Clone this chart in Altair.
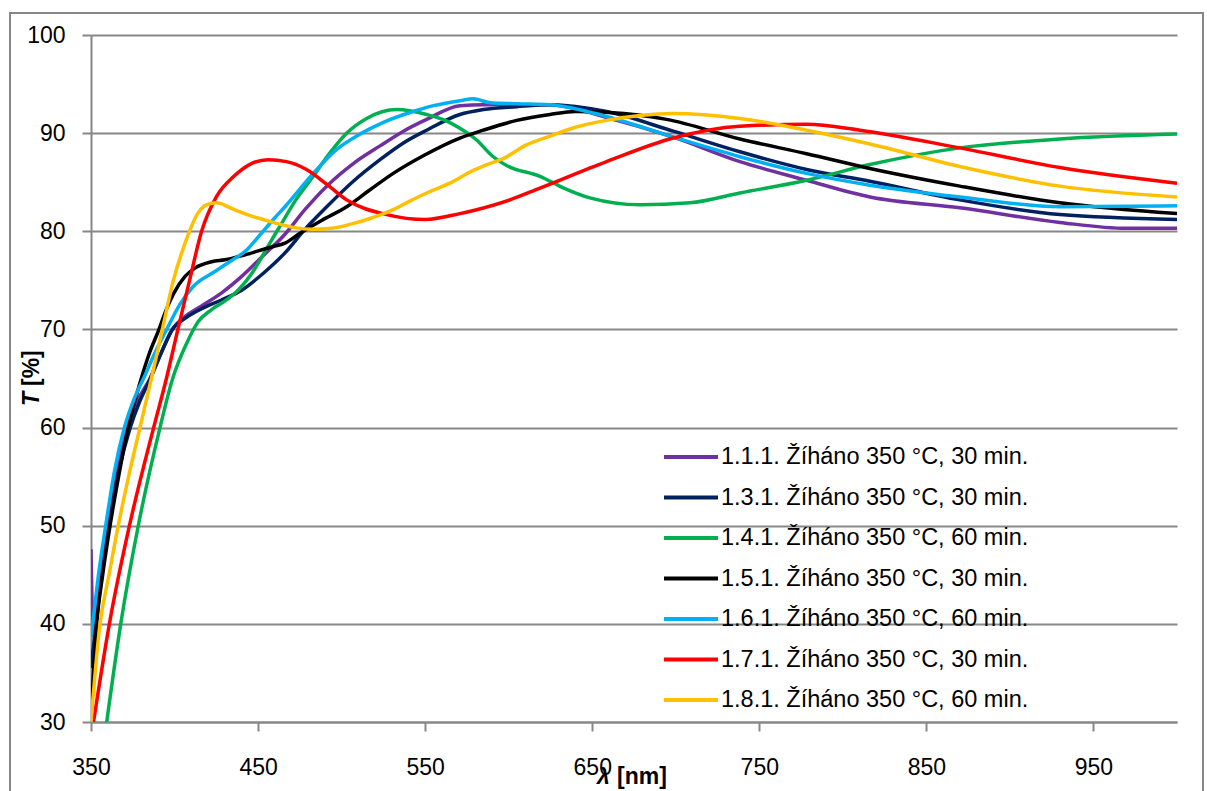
import altair as alt
import pandas as pd

series_names = [
    "1.1.1. Žíháno 350 °C, 30 min.",
    "1.3.1. Žíháno 350 °C, 30 min.",
    "1.4.1. Žíháno 350 °C, 60 min.",
    "1.5.1. Žíháno 350 °C, 30 min.",
    "1.6.1. Žíháno 350 °C, 60 min.",
    "1.7.1. Žíháno 350 °C, 30 min.",
    "1.8.1. Žíháno 350 °C, 60 min.",
]
colors = ["#7030A0", "#002060", "#00B050", "#000000", "#00B0F0", "#FF0000", "#FFC000"]

x_ticks = [350, 450, 550, 650, 750, 850, 950]
y_ticks = [30, 40, 50, 60, 70, 80, 90, 100]

# 1.1.1 (purple)
x_111 = [350, 351.4, 353, 356.5, 360.4, 365.5, 371.5, 378, 385.3, 392, 398.7, 407, 416.2, 428,
         440.2, 453, 466.1, 478, 491.1, 507, 523, 537, 550.9, 570.8, 584.8, 624.7, 658.6,
         698.5, 738.4, 778.3, 816.2, 870, 929.9, 969.8, 1000]
y_111 = [47.6, 38.8, 40.5, 45.5, 50, 55.5, 60, 62.8, 65.0, 67.6, 70, 71.4, 72.4, 73.7,
         75.4, 77.5, 79.7, 82.2, 84.6, 86.9, 88.7, 90.2, 91.4, 92.8, 92.9, 92.9, 91.6,
         89.6, 87.1, 85.2, 83.5, 82.4, 80.9, 80.3, 80.3]
# 1.3.1 (navy)
x_131 = [350, 353, 356.5, 360.5, 366.5, 373.5, 379, 385.3, 392, 398.7, 407, 416.2, 428, 440.2,
         453, 466.1, 478, 491.1, 507, 523, 537, 550.9, 570.8, 584.8, 604.8, 624.7, 658.6,
         698.5, 738.4, 778.3, 816.2, 870, 929.9, 1000]
y_131 = [35.5, 40, 45, 50, 55.5, 60, 62.6, 64.9, 67.6, 70, 71.2, 72.1, 73.0, 74.0,
         75.7, 77.8, 80.2, 82.5, 85.1, 87.3, 89.0, 90.3, 91.9, 92.4, 92.7, 92.9, 92.2,
         90.2, 88.1, 86.3, 85.1, 83.2, 81.7, 81.2]
# 1.4.1 (green)
x_141 = [359.4, 367.8, 378.3, 391.3, 398.7, 407.3, 414.2, 422, 430.2, 438, 446.2, 452, 458.1,
         464.1, 473, 483, 493, 503, 515, 532.9, 550.9, 562, 570.8, 580.8, 590, 598.8, 618.7,
         633, 648.6, 678.5, 708.5, 738.4, 778.3, 816.2, 870, 929.9, 1000]
y_141 = [30, 40, 50, 60, 64.9, 68.6, 70.8, 72.0, 72.9, 74.0, 75.7, 77.3, 79.1,
         80.8, 83.3, 85.6, 88.0, 90.0, 91.5, 92.4, 91.9, 91.3, 90.5, 89.3, 87.7, 86.7, 85.6,
         84.4, 83.4, 82.7, 82.9, 83.9, 85.2, 86.8, 88.5, 89.4, 89.9]
# 1.5.1 (black)
x_151 = [350, 351.5, 353.4, 357, 361.4, 366.5, 372.3, 379.9, 385, 390.7, 395, 399.6, 406.3,
         412.2, 422.2, 430.2, 440, 450.1, 458, 466.1, 475.1, 488, 503, 516, 530.9, 550, 570.8,
         584.8, 604.8, 624.7, 640, 660, 694.5, 738.4, 778.3, 816.2, 870, 929.9, 1000]
y_151 = [30.5, 35, 40, 45, 50, 55, 60, 64.9, 67.6, 70, 72.0, 73.7, 75.4,
         76.25, 76.9, 77.1, 77.5, 78.0, 78.4, 78.8, 79.8, 81.1, 82.5, 84.1, 85.9, 87.8, 89.5,
         90.3, 91.3, 91.9, 92.2, 92.1, 91.4, 89.4, 87.9, 86.4, 84.6, 82.9, 81.8]
# 1.6.1 (light blue)
x_161 = [350, 351, 354.5, 358.8, 364, 370, 376, 382, 388.5, 395.3, 403, 411.3, 424.2, 433,
         443.2, 451, 459.1, 466.1, 483, 496, 511, 525, 540.9, 555, 570.8, 578.8, 588.8, 605,
         624.7, 658.6, 698.5, 738.4, 778.3, 816.2, 870, 929.9, 1000]
y_161 = [38.7, 40, 45, 50, 55.5, 60, 63, 65.2, 67.7, 70, 72.5, 74.4, 75.9, 76.9,
         78.1, 79.6, 81.2, 82.5, 85.9, 88.2, 89.9, 91.1, 92.1, 92.8, 93.3, 93.5, 93.1, 93.0,
         92.9, 91.7, 89.6, 87.6, 85.9, 84.7, 83.5, 82.5, 82.6]
# 1.7.1 (red)
x_171 = [351.5, 361, 373, 387.5, 395, 402, 409, 416.2, 425, 435.5, 446, 456, 467, 479, 491,
         503, 527, 550, 570.8, 580.8, 600.7, 618.7, 658.6, 698.5, 738.4, 778.3, 810.2, 870,
         929.9, 1000]
y_171 = [30, 40, 50, 60, 64.9, 70, 75, 80, 83.5, 85.6, 86.9, 87.3, 87.1, 86.3, 84.8,
         83.2, 81.7, 81.2, 81.8, 82.2, 83.2, 84.4, 87.1, 89.5, 90.7, 90.9, 90.3, 88.5,
         86.5, 84.9]
# 1.8.1 (yellow)
x_181 = [350, 355.4, 360.8, 366.3, 372.5, 379.3, 386, 392.7, 399, 406.3, 414.2, 419, 425.2, 432,
         438, 445.2, 453, 461.1, 471, 483, 494, 505, 517, 530.9, 540, 550.9, 564.8, 578.8, 587,
         596.7, 610.7, 624.7, 640, 658.6, 698.5, 738.4, 778.3, 816.2, 870, 929.9, 1000]
y_181 = [30, 40, 45, 50, 55, 60, 64.9, 70, 74.8, 78.8, 81.9, 82.7, 82.9, 82.5,
         82.05, 81.6, 81.2, 80.8, 80.4, 80.2, 80.3, 80.7, 81.3, 82.2, 83.0, 83.9, 84.9, 86.2, 86.8,
         87.4, 88.8, 89.7, 90.6, 91.3, 92.0, 91.5, 90.3, 88.9, 86.6, 84.6, 83.5]

all_x = [x_111, x_131, x_141, x_151, x_161, x_171, x_181]
all_y = [y_111, y_131, y_141, y_151, y_161, y_171, y_181]

rows = []
for i, (name, xs, ys) in enumerate(zip(series_names, all_x, all_y)):
    for xv, yv in zip(xs, ys):
        rows.append({"series": name, "order": i, "wl": xv, "T": yv})
df = pd.DataFrame(rows)

FONT = "Liberation Sans"
GRAY = "#878787"
W, H = 1086, 687

lines = alt.Chart(df).mark_line(strokeWidth=3.5, interpolate="monotone", clip=True).encode(
    x=alt.X("wl:Q",
            scale=alt.Scale(domain=[350, 1000], nice=False, zero=False),
            axis=alt.Axis(values=x_ticks, title=None, grid=False, tickSize=9,
                          labelPadding=25, labelFlush=False)),
    y=alt.Y("T:Q",
            scale=alt.Scale(domain=[30, 100], nice=False, zero=False),
            axis=alt.Axis(values=y_ticks, title=None, grid=True, tickSize=9,
                          labelPadding=17)),
    color=alt.Color("series:N",
                    scale=alt.Scale(domain=series_names, range=colors),
                    legend=alt.Legend(title=None, orient="none", legendX=571, legendY=411,
                                      symbolType="stroke", symbolSize=2916,
                                      symbolStrokeWidth=4, clipHeight=22, rowPadding=16.5,
                                      labelOffset=1, labelFontSize=23.5, labelFont=FONT,
                                      labelColor="#000000", labelLimit=600, padding=0)),
    detail="series:N",
    order="wl:Q",
)

one = pd.DataFrame({"k": [0]})

border = alt.Chart(one).mark_rect(fillOpacity=0, stroke=GRAY, strokeWidth=2).encode(
    x=alt.value(-81), x2=alt.value(1112), y=alt.value(-22), y2=alt.value(800)
)

xt1 = alt.Chart(one).mark_text(text="λ", font=FONT, fontSize=23, fontWeight="bold",
                               fontStyle="italic", align="left", baseline="alphabetic",
                               color="#000000").encode(x=alt.value(506), y=alt.value(749))
xt2 = alt.Chart(one).mark_text(text="[nm]", font=FONT, fontSize=23, fontWeight="bold",
                               align="left", baseline="alphabetic",
                               color="#000000").encode(x=alt.value(526), y=alt.value(749))
yt1 = alt.Chart(one).mark_text(text="T", font=FONT, fontSize=23, fontWeight="bold",
                               fontStyle="italic", align="left", baseline="middle", angle=270,
                               color="#000000").encode(x=alt.value(-59), y=alt.value(371))
yt2 = alt.Chart(one).mark_text(text="[%]", font=FONT, fontSize=23, fontWeight="bold",
                               align="left", baseline="middle", angle=270,
                               color="#000000").encode(x=alt.value(-59), y=alt.value(351))

chart = alt.layer(border, lines, xt1, xt2, yt1, yt2).properties(
    width=W, height=H,
    padding={"left": 91, "top": 35, "right": 30, "bottom": 69},
    autosize=alt.AutoSizeParams(type="none"),
    background="#ffffff",
).configure_view(stroke="transparent").configure_axis(
    domainColor=GRAY, domainWidth=2, tickColor=GRAY, tickWidth=2,
    gridColor=GRAY, gridWidth=2, labelFont=FONT, labelFontSize=23, labelColor="#000000",
)

chart.save("out.html", embed_options={"renderer": "svg", "actions": False})
